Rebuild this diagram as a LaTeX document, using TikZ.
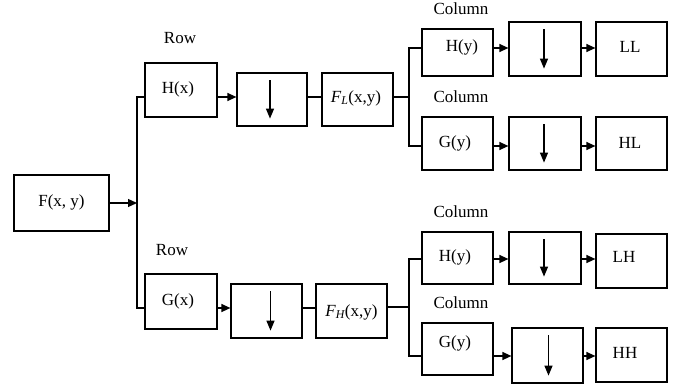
\documentclass[tikz,border=0pt]{standalone}
\usepackage{fontspec}
\setmainfont{Liberation Serif}
\usetikzlibrary{arrows.meta}
\begin{document}
\begin{tikzpicture}[x=1pt,y=-1pt,
  box/.style={draw,line width=1.2pt,inner sep=0pt},
  txt/.style={inner sep=0pt,font=\fontsize{17}{20}\selectfont},
  wire/.style={line width=1.3pt},
  arr/.style={line width=1.3pt,-{Triangle[length=9pt,width=8pt]}},
  down/.style={line width=1.3pt,-{Triangle[length=10pt,width=8pt]}}]
\useasboundingbox (0,0) rectangle (681,388);
% boxes
\node[box,minimum width=95pt,minimum height=56pt] (F) at (61.5,203) {};
\node[box,minimum width=72pt,minimum height=54pt] (Hx) at (181,90) {};
\node[box,minimum width=70pt,minimum height=53pt] (D1) at (272,99.5) {};
\node[box,minimum width=71pt,minimum height=53pt] (FL) at (357.5,99.5) {};
\node[box,minimum width=72pt,minimum height=55pt] (Gx) at (181,301.5) {};
\node[box,minimum width=71pt,minimum height=54pt] (D3) at (266.5,311) {};
\node[box,minimum width=71pt,minimum height=54pt] (FH) at (351.5,311) {};
\node[box,minimum width=71pt,minimum height=47pt] (Hy1) at (457.5,52.5) {};
\node[box,minimum width=72pt,minimum height=54pt] (D2) at (545,49) {};
\node[box,minimum width=71pt,minimum height=54pt] (LL) at (631.5,49) {};
\node[box,minimum width=71pt,minimum height=53pt] (Gy1) at (457.5,143.5) {};
\node[box,minimum width=72pt,minimum height=53pt] (D4) at (545,143.5) {};
\node[box,minimum width=71pt,minimum height=53pt] (HL) at (631.5,143.5) {};
\node[box,minimum width=71pt,minimum height=52pt] (Hy2) at (457.5,258) {};
\node[box,minimum width=72pt,minimum height=52pt] (D5) at (545,258) {};
\node[box,minimum width=71pt,minimum height=54pt] (LH) at (631.5,261) {};
\node[box,minimum width=71pt,minimum height=52pt] (Gy2) at (457.5,349) {};
\node[box,minimum width=71pt,minimum height=55pt] (D6) at (547.5,355.5) {};
\node[box,minimum width=71pt,minimum height=54pt] (HH) at (631.5,355) {};
% texts in boxes
\node[txt] (tF) at (61.5,202) {F(x, y)};
\node[txt] (tHx) at (178,89) {H(x)};
\node[txt] (tFL) at (356,98) {{\itshape F}\textsubscript{\itshape L}(x,y)};
\node[txt] (tGx) at (178,301) {G(x)};
\node[txt] (tFH) at (351.5,312) {{\itshape F}\textsubscript{\itshape H}(x,y)};
\node[txt] (tHy1) at (462,47) {H(y)};
\node[txt] (tGy1) at (455,143) {G(y)};
\node[txt] (tLL) at (630,47) {LL};
\node[txt] (tHL) at (630,143) {HL};
\node[txt] (tHy2) at (455,257) {H(y)};
\node[txt] (tGy2) at (455,343) {G(y)};
\node[txt] (tLH) at (624,257) {LH};
\node[txt] (tHH) at (625,353) {HH};
% labels
\node[txt] (row1) at (180,38) {Row};
\node[txt] (row2) at (172,250) {Row};
\node[txt] (col1) at (461,9) {Column};
\node[txt] (col2) at (461,97) {Column};
\node[txt] (col3) at (461,212) {Column};
\node[txt] (col4) at (461,303) {Column};
% branch coordinates
\coordinate (b0) at (137,203);
\coordinate (b1) at (137,97);
\coordinate (b2) at (137,308);
\coordinate (r0) at (409,97);
\coordinate (r1) at (409,48);
\coordinate (r2) at (409,146);
\coordinate (s0) at (409,307);
\coordinate (s1) at (409,259);
\coordinate (s2) at (409,356);
% left branch
\draw[arr] (F.east |- b0) -- (b0);
\draw[wire] (Hx.west |- b1) -- (b1) -- (b2) -- (Gx.west |- b2);
\draw[arr] (Hx.east |- b1) -- (D1.west |- b1);
\draw[wire] (D1.east |- b1) -- (FL.west |- b1);
\draw[arr] (Gx.east |- b2) -- (D3.west |- b2);
\draw[wire] (D3.east |- b2) -- (FH.west |- b2);
% right branches
\draw[wire] (FL.east |- r0) -- (r0);
\draw[wire] (Hy1.west |- r1) -- (r1) -- (r2) -- (Gy1.west |- r2);
\draw[wire] (FH.east |- s0) -- (s0);
\draw[wire] (Hy2.west |- s1) -- (s1) -- (s2) -- (Gy2.west |- s2);
\draw[arr] (Hy1.east |- r1) -- (D2.west |- r1);
\draw[arr] (D2.east |- r1) -- (LL.west |- r1);
\draw[arr] (Gy1.east |- r2) -- (D4.west |- r2);
\draw[arr] (D4.east |- r2) -- (HL.west |- r2);
\draw[arr] (Hy2.east |- s1) -- (D5.west |- s1);
\draw[arr] (D5.east |- s1) -- (LH.west |- s1);
\draw[arr] (Gy2.east |- s2) -- (D6.west |- s2);
\draw[arr] (D6.east |- s2) -- (HH.west |- s2);
% downsampling arrows
\foreach \d/\dx in {D1/-2,D2/-1,D3/4,D4/-1,D5/-1,D6/1}{
  \draw[down] ([xshift=\dx pt,yshift=-8pt]\d.north) -- ([xshift=\dx pt,yshift=8pt]\d.south);
}
\end{tikzpicture}
\end{document}
